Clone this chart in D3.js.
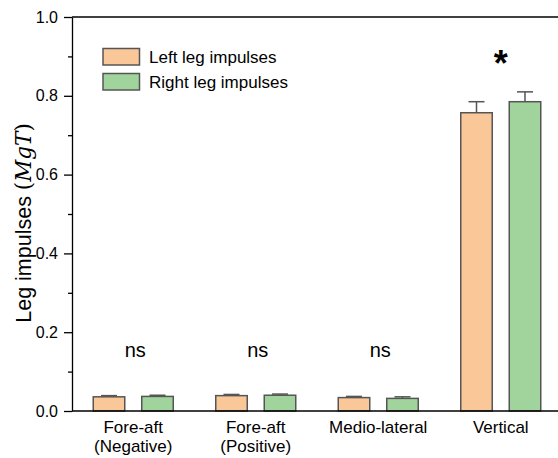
<!DOCTYPE html>
<html>
<head>
<meta charset="utf-8">
<script src="https://cdn.jsdelivr.net/npm/d3@7"></script>
<style>
  html, body { margin: 0; padding: 0; background: #fff; }
  svg { display: block; font-family: Arial, "Liberation Sans", sans-serif; }
</style>
</head>
<body>
<svg id="chart" width="558" height="458"></svg>
<script>
// Impulse components and their group labels (two lines each)
const categories = ["Fore-aft (Negative)", "Fore-aft (Positive)", "Medio-lateral", "Vertical"];
const categoryLines = [["Fore-aft", "(Negative)"], ["Fore-aft", "(Positive)"], ["Medio-lateral"], ["Vertical"]];
const seriesNames = ["Left leg impulses", "Right leg impulses"];
const leftValues = [0.036, 0.039, 0.034, 0.757];
const rightValues = [0.037, 0.040, 0.032, 0.785];
const leftErrors = [0.003, 0.003, 0.003, 0.028];
const rightErrors = [0.003, 0.003, 0.004, 0.025];
const significance = ["ns", "ns", "ns", "*"];
const yTicks = [0.0, 0.2, 0.4, 0.6, 0.8, 1.0];
const yMinorTicks = [0.1, 0.3, 0.5, 0.7, 0.9];

const colors = ["#FAC898", "#A0D49C"];
const strokeColor = "#555555";

const svg = d3.select("#chart");
const margin = { left: 72, top: 17, right: -4, bottom: 47 };
const W = 558, H = 458;
const x0 = margin.left, x1 = W - margin.right;
const yTop = margin.top, yBottom = H - margin.bottom;

const x = d3.scaleBand().domain(categories).range([x0, x1]).paddingInner(0).paddingOuter(0);
const y = d3.scaleLinear().domain([0, 1]).range([yBottom, yTop]);

const barW = 31.5, gap = 17;
const offsets = [-(gap / 2 + barW), gap / 2];

const series = [leftValues, rightValues];
const errors = [leftErrors, rightErrors];

const g = svg.append("g");

// Bars with error bars (upper whisker only)
series.forEach((vals, s) => {
  categories.forEach((c, i) => {
    const cx = x(c) + x.bandwidth() / 2;
    const bx = cx + offsets[s];
    const top = y(vals[i] + errors[s][i]);
    g.append("line")
      .attr("x1", bx + barW / 2).attr("x2", bx + barW / 2)
      .attr("y1", y(vals[i])).attr("y2", top)
      .attr("stroke", strokeColor).attr("stroke-width", 1.5);
    g.append("line")
      .attr("x1", bx + barW / 2 - 8).attr("x2", bx + barW / 2 + 8)
      .attr("y1", top).attr("y2", top)
      .attr("stroke", strokeColor).attr("stroke-width", 1.5);
    g.append("rect")
      .attr("x", bx).attr("y", y(vals[i]))
      .attr("width", barW).attr("height", y(0) - y(vals[i]))
      .attr("fill", colors[s])
      .attr("stroke", strokeColor).attr("stroke-width", 1.5);
  });
});

// Frame: top edge line
svg.append("line")
  .attr("x1", x0).attr("x2", W + 5).attr("y1", yTop).attr("y2", yTop)
  .attr("stroke", "#000").attr("stroke-width", 1.3);

// Y axis
const yAxis = d3.axisLeft(y).tickValues(yTicks).tickFormat(d3.format(".1f")).tickSize(8).tickSizeOuter(0);
const ya = svg.append("g").attr("transform", `translate(${x0},0)`).call(yAxis);
ya.select(".domain").attr("stroke", "#000").attr("stroke-width", 1.3);
ya.selectAll(".tick line").attr("stroke", "#000").attr("stroke-width", 1.3);
ya.selectAll(".tick text").attr("font-size", 16).attr("fill", "#000").attr("x", -14)
  .attr("font-family", "Arial, 'Liberation Sans', sans-serif");
const yMinor = d3.axisLeft(y).tickValues(yMinorTicks).tickSize(4).tickFormat("");
const ym = svg.append("g").attr("transform", `translate(${x0},0)`).call(yMinor);
ym.select(".domain").remove();
ym.selectAll(".tick line").attr("stroke", "#000").attr("stroke-width", 1.3);

// X axis baseline
const xAxis = d3.axisBottom(x).tickSize(0).tickFormat("");
const xa = svg.append("g").attr("transform", `translate(0,${yBottom})`).call(xAxis);
xa.select(".domain").attr("stroke", "#000").attr("stroke-width", 1.3).attr("d", `M${x0},0H${W + 5}`);

// Category labels
categories.forEach((c, i) => {
  const cx = x(c) + x.bandwidth() / 2;
  const t = svg.append("text")
    .attr("x", cx).attr("y", yBottom + 22)
    .attr("text-anchor", "middle").attr("font-size", 17).attr("fill", "#000");
  categoryLines[i].forEach((line, k) => {
    t.append("tspan").attr("x", cx).attr("dy", k === 0 ? 0 : 18.5).text(line);
  });
});

// Significance markers
categories.forEach((c, i) => {
  const cx = x(c) + x.bandwidth() / 2;
  if (significance[i] === "*") {
    svg.append("text").attr("x", cx).attr("y", 76)
      .attr("text-anchor", "middle").attr("font-size", 36).attr("font-weight", "bold")
      .attr("fill", "#000").text("*");
  } else {
    svg.append("text").attr("x", cx + 2).attr("y", 357)
      .attr("text-anchor", "middle").attr("font-size", 20).attr("fill", "#000").text(significance[i]);
  }
});

// Y axis title with italic math unit
const yt = svg.append("text")
  .attr("transform", `translate(31,223) rotate(-90)`)
  .attr("text-anchor", "middle").attr("font-size", 21.5).attr("fill", "#000");
yt.append("tspan").text("Leg impulses ");
yt.append("tspan").attr("font-family", "'DejaVu Serif', 'Liberation Serif', serif").text("(");
yt.append("tspan").attr("font-family", "'DejaVu Serif', 'Liberation Serif', serif").attr("font-style", "italic").text("MgT");
yt.append("tspan").attr("font-family", "'DejaVu Serif', 'Liberation Serif', serif").text(")");

// Legend
const legend = svg.append("g");
seriesNames.forEach((name, s) => {
  const ly = 48.5 + s * 25;
  legend.append("rect")
    .attr("x", 103).attr("y", ly).attr("width", 36.5).attr("height", 16.5)
    .attr("fill", colors[s]).attr("stroke", strokeColor).attr("stroke-width", 1.5);
  legend.append("text")
    .attr("x", 149).attr("y", ly + 14)
    .attr("font-size", 17).attr("fill", "#000").text(name);
});
</script>
</body>
</html>
